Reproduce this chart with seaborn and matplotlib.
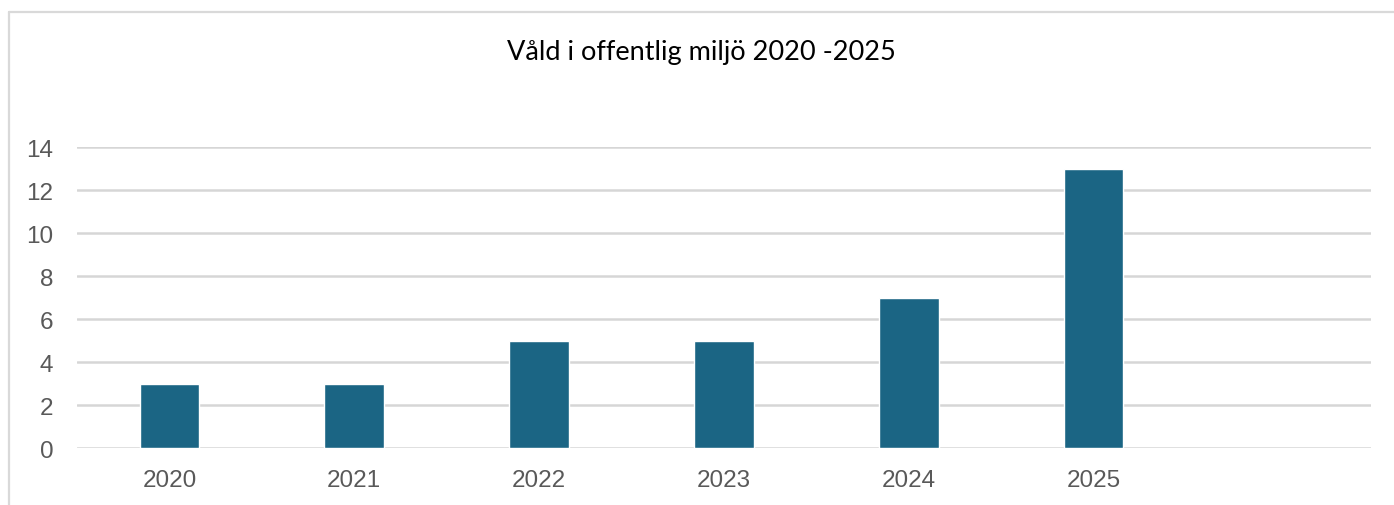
import matplotlib
matplotlib.use("Agg")
import matplotlib.pyplot as plt
from matplotlib.lines import Line2D
import seaborn as sns
import pandas as pd

years = ["2020", "2021", "2022", "2023", "2024", "2025"]
counts = [3, 3, 5, 5, 7, 13]
title = "Våld i offentlig miljö 2020 -2025"

df = pd.DataFrame({"år": years, "antal": counts})

sns.set_theme(style="white")
plt.rcParams["font.family"] = ["Liberation Sans", "DejaVu Sans"]

fig = plt.figure(figsize=(13.94, 5.06), dpi=100)
ax = fig.add_axes([0.0552, 0.1126, 0.9283, 0.5949])

sns.barplot(data=df, x="år", y="antal", color="#1b6584", saturation=1,
            width=0.322, ax=ax, zorder=3)

ax.set_xlim(-0.5, 6.5)
ax.set_ylim(0, 14)
ax.set_yticks(range(0, 15, 2))
ax.yaxis.grid(True, color="#d6d6d6", linewidth=1.8, zorder=0)
ax.set_axisbelow(True)
for s in ax.spines.values():
    s.set_visible(False)
ax.set_xlabel("")
ax.set_ylabel("")
ax.tick_params(axis="x", length=0, pad=15, labelsize=17.5, labelcolor="#595959")
ax.tick_params(axis="y", length=0, pad=17, labelsize=17.5, labelcolor="#595959")

fig.text(0.503, 0.897, title, ha="center", va="center", fontsize=19.5,
         color="#000000", family=["Lato", "DejaVu Sans"])

# chart frame (top and left edges visible)
fig.add_artist(Line2D([9 / 1394, 1.0], [1 - 13 / 506, 1 - 13 / 506],
                      color="#d9d9d9", linewidth=1.6, transform=fig.transFigure))
fig.add_artist(Line2D([9 / 1394, 9 / 1394], [0.0, 1 - 13 / 506],
                      color="#d9d9d9", linewidth=1.6, transform=fig.transFigure))

fig.savefig("out.png", dpi=100)
